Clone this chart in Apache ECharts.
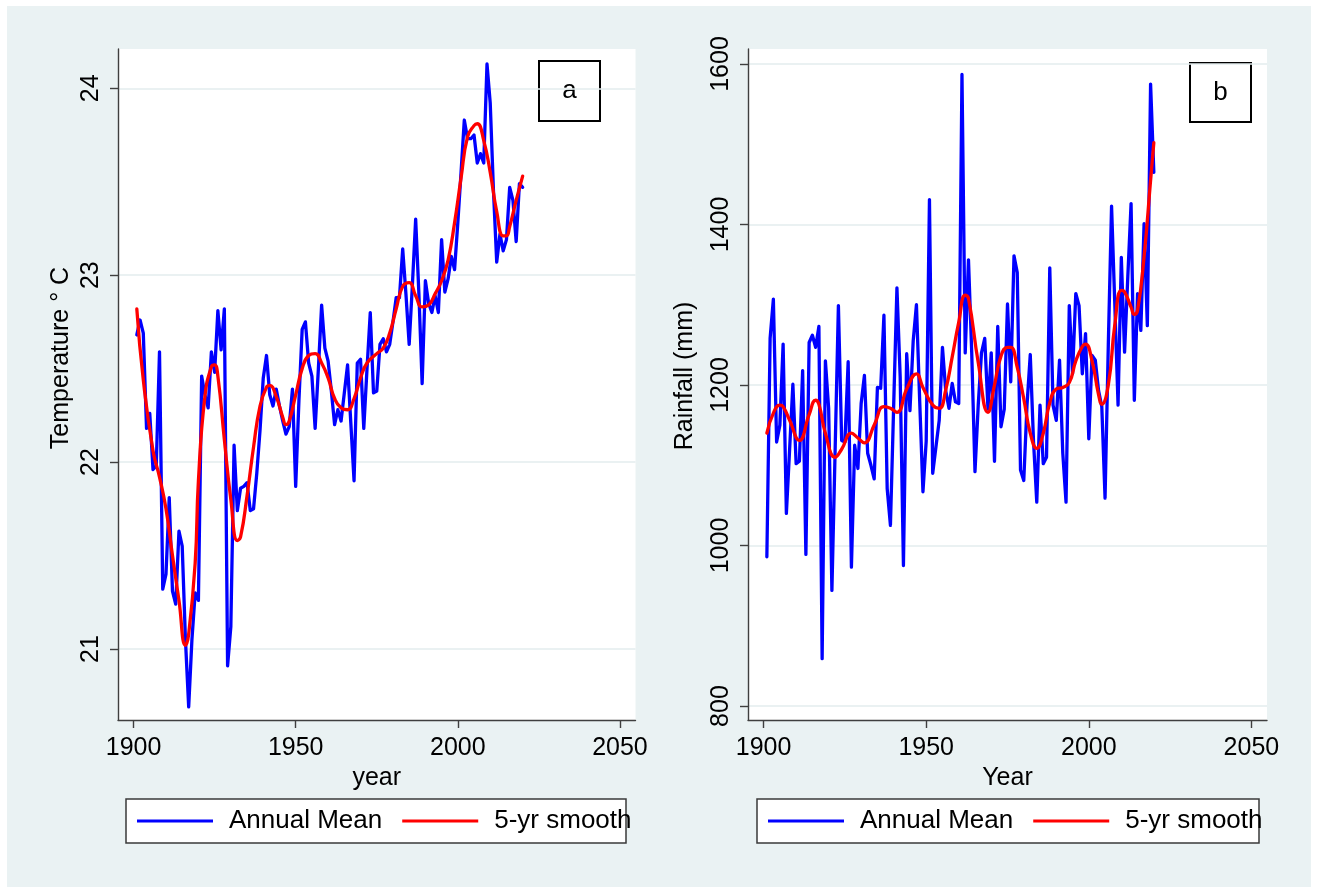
<!DOCTYPE html>
<html>
<head>
<meta charset="utf-8">
<title>Annual temperature and rainfall</title>
<script src="https://cdn.jsdelivr.net/npm/echarts@6/dist/echarts.min.js"></script>
<style>
  html, body { margin: 0; padding: 0; background: #ffffff; }
  #frame { position: absolute; left: 7px; top: 6px; width: 1304px; height: 881px; background: #EAF2F3; }
  #chart { position: absolute; left: 0; top: 0; width: 1317px; height: 893px; }
</style>
</head>
<body>
<div id="frame"></div>
<div id="chart"></div>
<script>
// ---- data ----
const firstYear = 1901;

// (a) annual mean temperature, deg C, 1901-2020
const tempAnnual = [
  22.68, 22.76, 22.69, 22.18, 22.26, 21.96, 21.98, 22.59, 21.32, 21.40,
  21.81, 21.31, 21.24, 21.63, 21.55, 21.05, 20.69, 21.05, 21.30, 21.26,
  22.46, 22.36, 22.29, 22.59, 22.48, 22.81, 22.60, 22.82, 20.91, 21.12,
  22.09, 21.74, 21.86, 21.87, 21.89, 21.74, 21.75, 21.94, 22.17, 22.45,
  22.57, 22.36, 22.30, 22.39, 22.30, 22.22, 22.15, 22.19, 22.39, 21.87,
  22.33, 22.71, 22.75, 22.53, 22.46, 22.18, 22.50, 22.84, 22.61, 22.54,
  22.38, 22.20, 22.28, 22.22, 22.37, 22.52, 22.21, 21.90, 22.53, 22.55,
  22.18, 22.50, 22.80, 22.37, 22.38, 22.63, 22.66, 22.59, 22.63, 22.75,
  22.88, 22.88, 23.14, 22.90, 22.63, 22.95, 23.30, 22.90, 22.42, 22.97,
  22.85, 22.80, 22.89, 22.80, 23.19, 22.91, 22.98, 23.10, 23.03, 23.28,
  23.55, 23.83, 23.73, 23.73, 23.75, 23.60, 23.65, 23.60, 24.13, 23.92,
  23.45, 23.07, 23.22, 23.13, 23.19, 23.47, 23.40, 23.18, 23.49, 23.47
];

// (a) 5-yr smooth of temperature
const tempSmoothYears = [
  1901, 1903, 1906, 1908, 1910, 1912, 1914, 1916, 1917, 1919,
  1920, 1922, 1924, 1925, 1926, 1928, 1930, 1932, 1933, 1935,
  1937, 1939, 1941, 1942, 1944, 1946, 1947, 1948, 1950, 1952,
  1954, 1956, 1958, 1960, 1962, 1964, 1966, 1968, 1970, 1972,
  1975, 1977, 1979, 1981, 1983, 1985, 1987, 1989, 1991, 1993,
  1995, 1997, 1999, 2001, 2003, 2005, 2006, 2008, 2010, 2012,
  2014, 2015, 2016, 2018, 2020
];
const tempSmooth = [
  22.82, 22.44, 22.06, 21.92, 21.75, 21.50, 21.26, 21.02, 21.08, 21.46,
  21.90, 22.35, 22.51, 22.52, 22.46, 22.12, 21.80, 21.58, 21.60, 21.82,
  22.08, 22.30, 22.40, 22.41, 22.35, 22.24, 22.20, 22.22, 22.36, 22.50,
  22.57, 22.58, 22.53, 22.45, 22.34, 22.29, 22.28, 22.34, 22.45, 22.53,
  22.58, 22.61, 22.69, 22.82, 22.94, 22.96, 22.89, 22.83, 22.84, 22.90,
  22.97, 23.08, 23.28, 23.52, 23.74, 23.80, 23.81, 23.72, 23.55, 23.34,
  23.21, 23.21, 23.26, 23.40, 23.53
];

// (b) annual rainfall, mm, 1901-2020
const rainAnnual = [
  986, 1258, 1307, 1129, 1150, 1251, 1040, 1120, 1201, 1102,
  1105, 1218, 989, 1253, 1262, 1247, 1273, 859, 1230, 1171,
  944, 1120, 1299, 1131, 1129, 1229, 973, 1125, 1096, 1177,
  1212, 1115, 1100, 1083, 1197, 1196, 1287, 1071, 1025, 1175,
  1321, 1210, 975, 1239, 1168, 1255, 1300, 1180, 1067, 1130,
  1431, 1090, 1123, 1156, 1247, 1193, 1171, 1202, 1179, 1177,
  1587, 1240, 1356, 1240, 1092, 1175, 1240, 1258, 1170, 1240,
  1105, 1273, 1148, 1170, 1301, 1204, 1361, 1340, 1094, 1081,
  1175, 1238, 1130, 1054, 1175, 1102, 1110, 1346, 1175, 1156,
  1231, 1115, 1054, 1299, 1214, 1314, 1299, 1214, 1264, 1133,
  1237, 1231, 1193, 1173, 1059, 1250, 1423, 1300, 1175, 1359,
  1241, 1335, 1426, 1181, 1314, 1268, 1401, 1274, 1575, 1465
];

// (b) 5-yr smooth of rainfall
const rainSmoothYears = [
  1901, 1903, 1905, 1906, 1908, 1911, 1914, 1916, 1917, 1919,
  1922, 1924, 1927, 1929, 1931, 1934, 1937, 1939, 1941, 1944,
  1947, 1949, 1952, 1954, 1956, 1958, 1960, 1962, 1963, 1966,
  1969, 1971, 1973, 1975, 1976, 1978, 1980, 1982, 1984, 1986,
  1988, 1990, 1992, 1994, 1996, 1998, 1999, 2001, 2003, 2004,
  2006, 2008, 2010, 2011, 2013, 2014, 2015, 2017, 2019, 2020
];
const rainSmooth = [
  1140, 1165, 1175, 1173, 1156, 1131, 1163, 1181, 1176, 1140,
  1110, 1120, 1140, 1134, 1128, 1150, 1173, 1171, 1166, 1195,
  1214, 1197, 1175, 1171, 1194, 1235, 1278, 1312, 1308, 1228,
  1166, 1200, 1236, 1247, 1247, 1222, 1183, 1140, 1121, 1140,
  1178, 1195, 1197, 1203, 1230, 1248, 1251, 1230, 1188, 1176,
  1200, 1275, 1318, 1316, 1297, 1288, 1293, 1360, 1455, 1502
];

// tick labels
const yearTicks = [1900, 1950, 2000, 2050];
const tempTicks = [21, 22, 23, 24];
const rainTicks = [800, 1000, 1200, 1400, 1600];
const seriesNames = ['Annual Mean', '5-yr smooth'];

// ---- chart ----
const FONT = "'Liberation Sans', Arial, Helvetica, sans-serif";
const AXIS_COLOR = '#3f3f3f';
const GRID_COLOR = '#E3ECEE';
const BLUE = '#0000FF';
const RED = '#FF0000';
const LINE_W = 3.3;

const pairUp = (xs, ys) => xs.map((x, i) => [x, ys[i]]);
const annualYears = tempAnnual.map((_, i) => firstYear + i);
const plainNumber = v => String(v);

function makeXAxis(gridIndex, name) {
  return {
    type: 'value', gridIndex, min: 1895.2, max: 2054.8,
    name, nameLocation: 'middle', nameGap: 38,
    nameTextStyle: { fontFamily: FONT, fontSize: 25, color: '#000' },
    axisLine: { show: true, onZero: false, lineStyle: { color: AXIS_COLOR, width: 1.4 } },
    axisTick: { show: true, length: 8, customValues: yearTicks, lineStyle: { color: AXIS_COLOR, width: 1.4 } },
    axisLabel: { customValues: yearTicks, formatter: plainNumber, margin: 16, fontFamily: FONT, fontSize: 25, color: '#000' },
    splitLine: { show: false }
  };
}

function makeYAxis(gridIndex, min, max, ticks) {
  return {
    type: 'value', gridIndex, min, max,
    axisLine: { show: true, onZero: false, lineStyle: { color: AXIS_COLOR, width: 1.4 } },
    axisTick: { show: true, length: 8, customValues: ticks, lineStyle: { color: AXIS_COLOR, width: 1.4 } },
    axisLabel: { customValues: ticks, formatter: plainNumber, rotate: 90, margin: 14, fontFamily: FONT, fontSize: 25, color: '#000' },
    splitLine: { show: true, lineStyle: { color: GRID_COLOR, width: 1.5 } }
  };
}

function lineSeries(name, axisIndex, data, color, smooth, z) {
  return {
    name, type: 'line', xAxisIndex: axisIndex, yAxisIndex: axisIndex,
    data, smooth, symbol: 'none', z, animation: false,
    lineStyle: { color, width: LINE_W, cap: 'round', join: 'round' },
    itemStyle: { color }
  };
}

function makeLegend(left) {
  return {
    data: seriesNames, left, top: 808, orient: 'horizontal',
    icon: 'rect', itemWidth: 76, itemHeight: 3, itemGap: 20, padding: 0,
    selectedMode: false, z: 6,
    textStyle: { fontFamily: FONT, fontSize: 26, color: '#000', padding: [0, 0, 0, 11] }
  };
}

function panelTag(x, y, w, h, letter) {
  return {
    type: 'group', z: 20,
    children: [
      { type: 'rect', shape: { x, y, width: w, height: h }, style: { fill: '#fff', stroke: '#000', lineWidth: 2 } },
      { type: 'text', x: x + w / 2, y: y + h / 2,
        style: { text: letter, fontFamily: FONT, fontSize: 26, fill: '#000', align: 'center', verticalAlign: 'middle' } }
    ]
  };
}

function axisTitle(x, y, text) {
  return {
    type: 'text', x, y, rotation: Math.PI / 2, z: 20,
    style: { text, fontFamily: FONT, fontSize: 25, fill: '#000', align: 'center', verticalAlign: 'middle' }
  };
}

function legendFrame(x, y, w, h) {
  return {
    type: 'rect', z: 1, shape: { x, y, width: w, height: h },
    style: { fill: '#fff', stroke: '#3a3a3a', lineWidth: 1.5 }
  };
}

const option = {
  animation: false,
  backgroundColor: 'transparent',
  grid: [
    { left: 118, top: 49, width: 517.5, height: 671, show: true, backgroundColor: '#fff', borderWidth: 0, outerBoundsMode: 'none' },
    { left: 748, top: 49, width: 519, height: 671, show: true, backgroundColor: '#fff', borderWidth: 0, outerBoundsMode: 'none' }
  ],
  xAxis: [makeXAxis(0, 'year'), makeXAxis(1, 'Year')],
  yAxis: [makeYAxis(0, 20.62, 24.21, tempTicks), makeYAxis(1, 782.6, 1618.7, rainTicks)],
  legend: [makeLegend(137), makeLegend(768)],
  series: [
    lineSeries(seriesNames[0], 0, pairUp(annualYears, tempAnnual), BLUE, false, 2),
    lineSeries(seriesNames[1], 0, pairUp(tempSmoothYears, tempSmooth), RED, true, 3),
    lineSeries(seriesNames[0], 1, pairUp(annualYears, rainAnnual), BLUE, false, 2),
    lineSeries(seriesNames[1], 1, pairUp(rainSmoothYears, rainSmooth), RED, true, 3)
  ],
  graphic: [
    legendFrame(126, 799, 500, 44),
    legendFrame(757, 799, 502, 44),
    panelTag(539, 61, 61, 60, 'a'),
    panelTag(1190, 63, 61, 59, 'b'),
    axisTitle(61, 358, 'Temperature ° C'),
    axisTitle(685, 376, 'Rainfall (mm)')
  ]
};

const chart = echarts.init(document.getElementById('chart'), null, { renderer: 'canvas' });
chart.setOption(option);
</script>
</body>
</html>
